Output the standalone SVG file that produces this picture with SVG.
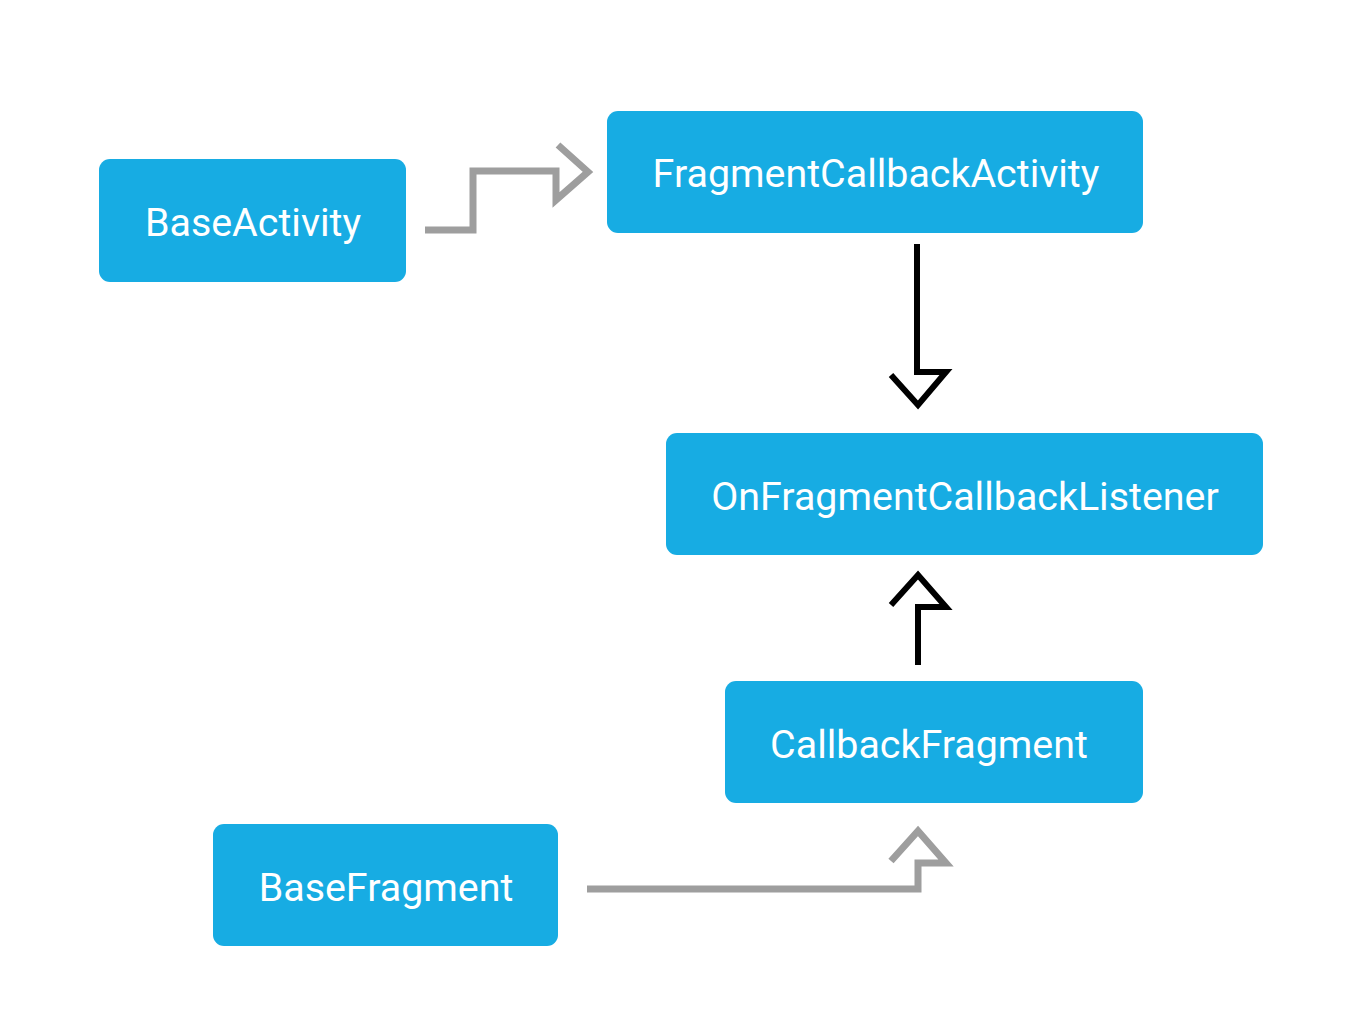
<svg xmlns="http://www.w3.org/2000/svg" width="1355" height="1019" viewBox="0 0 1355 1019">
<style>
.box{fill:#17ace3}
.lbl{font-family:Roboto,"Liberation Sans",sans-serif;font-size:39.4px;fill:#ffffff;text-anchor:middle}
.gray{fill:none;stroke:#9e9e9e;stroke-width:7}
.black{fill:none;stroke:#000000;stroke-width:6}
</style>
<rect width="1355" height="1019" fill="#ffffff"/>
<g id="connectors">
<polyline class="gray" points="425,230 473,230 473,171 556,171 556,200 588,172 558,145"/>
<polyline class="black" points="917,244 917,372 946,372 918,405 891,375"/>
<polyline class="black" points="918,665 918,607 946,607 918,575 891,605"/>
<polyline class="gray" points="587,889 918,889 918,863 946,863 918,831 891,861"/>
</g>
<g id="BaseActivity">
<rect class="box" x="99" y="159" width="307" height="123" rx="11"/>
<text class="lbl" x="253" y="236">BaseActivity</text>
</g>
<g id="FragmentCallbackActivity">
<rect class="box" x="607" y="111" width="536" height="122" rx="11"/>
<text class="lbl" x="876" y="187">FragmentCallbackActivity</text>
</g>
<g id="OnFragmentCallbackListener">
<rect class="box" x="666" y="433" width="597" height="122" rx="11"/>
<text class="lbl" x="965" y="510">OnFragmentCallbackListener</text>
</g>
<g id="CallbackFragment">
<rect class="box" x="725" y="681" width="418" height="122" rx="11"/>
<text class="lbl" x="929" y="758">CallbackFragment</text>
</g>
<g id="BaseFragment">
<rect class="box" x="213" y="824" width="345" height="122" rx="11"/>
<text class="lbl" x="386" y="901">BaseFragment</text>
</g>
</svg>
